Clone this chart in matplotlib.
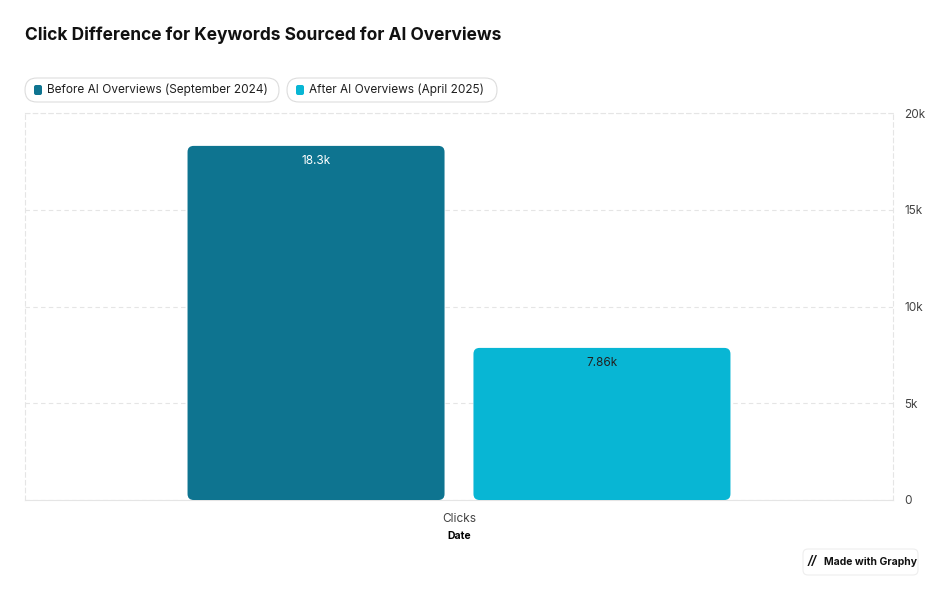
import matplotlib
matplotlib.use("Agg")
import matplotlib.pyplot as plt
from matplotlib.patches import FancyBboxPatch
from matplotlib.transforms import IdentityTransform

plt.rcParams["font.family"] = "Inter"

categories = ["Clicks"]
series_names = ["Before AI Overviews (September 2024)", "After AI Overviews (April 2025)"]
values = [18300, 7860]
value_labels = ["18.3k", "7.86k"]
colors = ["#0e7490", "#08b6d4"]
yticks = [0, 5000, 10000, 15000, 20000]
ytick_labels = ["0", "5k", "10k", "15k", "20k"]

W, H = 944, 600
fig = plt.figure(figsize=(W/100, H/100), dpi=100)
ax = fig.add_axes([25/W, 1-500/H, 868/W, 387/H])
ax.set_xlim(0, 1)
ax.set_ylim(0, 20000)

bw = 257/868
offsets = [-0.1647, 0.1647]
aspect = (20000/387)/(1/868)
for i, (v, c, lab) in enumerate(zip(values, colors, value_labels)):
    x0 = 0.5 + offsets[i] - bw/2
    p = FancyBboxPatch((x0, 0), bw, v, boxstyle="round,pad=0,rounding_size=0.007",
                       mutation_aspect=aspect, fc=c, ec="none", zorder=3)
    ax.add_patch(p)
    ax.text(0.5 + offsets[i], v - 480, lab, ha="center", va="top", fontsize=8.5,
            color="white" if i == 0 else "#222222", zorder=4)

ax.set_yticks(yticks)
ax.set_yticklabels(ytick_labels, fontsize=8.5, color="#444444")
ax.yaxis.tick_right()
ax.tick_params(axis="y", length=0, pad=8)
ax.set_xticks([0.5])
ax.set_xticklabels(categories, fontsize=8.5, color="#444444")
ax.tick_params(axis="x", length=0, pad=9)
ax.set_xlabel("Date", fontsize=7.5, fontweight="bold", labelpad=5)
ax.grid(axis="y", color="#e5e5e5", linestyle=(0, (4, 3)), linewidth=0.8, zorder=0)
for s in ["left", "right", "top"]:
    ax.spines[s].set_color("#e5e5e5")
    ax.spines[s].set_linestyle((0, (4, 3)))
    ax.spines[s].set_linewidth(0.8)
ax.spines["bottom"].set_color("#e5e5e5")
ax.spines["bottom"].set_linewidth(0.8)

fig.text(25/W, 1-35/H, "Click Difference for Keywords Sourced for AI Overviews",
         fontsize=12.5, fontweight="bold", va="center", color="#111111")

px = IdentityTransform()
# legend pills (pixel coords, y from bottom)
pills = [(25, 279), (287, 497)]
for (x0, x1), name, c in zip(pills, series_names, colors):
    fig.patches.append(FancyBboxPatch((x0, H-102), x1-x0, 24,
        boxstyle="round,pad=0,rounding_size=12", transform=px,
        fc="white", ec="#dddddd", lw=0.8))
    fig.patches.append(FancyBboxPatch((x0+9, H-95), 8, 10,
        boxstyle="round,pad=0,rounding_size=2", transform=px,
        fc=c, ec="none"))
    fig.text((x0+22)/W, 1-90/H, name, fontsize=8.5, va="center", color="#222222")

# watermark
fig.patches.append(FancyBboxPatch((803, H-575), 115, 26,
    boxstyle="round,pad=0,rounding_size=5", transform=px,
    fc="white", ec="#eeeeee", lw=0.8))
fig.text(808/W, 1-562/H, "//", fontsize=8.5, va="center", fontweight="bold",
         fontstyle="italic", color="#111111")
fig.text(824/W, 1-562/H, "Made with Graphy", fontsize=7.5, va="center",
         fontweight="bold", color="#111111")

fig.savefig("out.png", dpi=100, facecolor="white")
